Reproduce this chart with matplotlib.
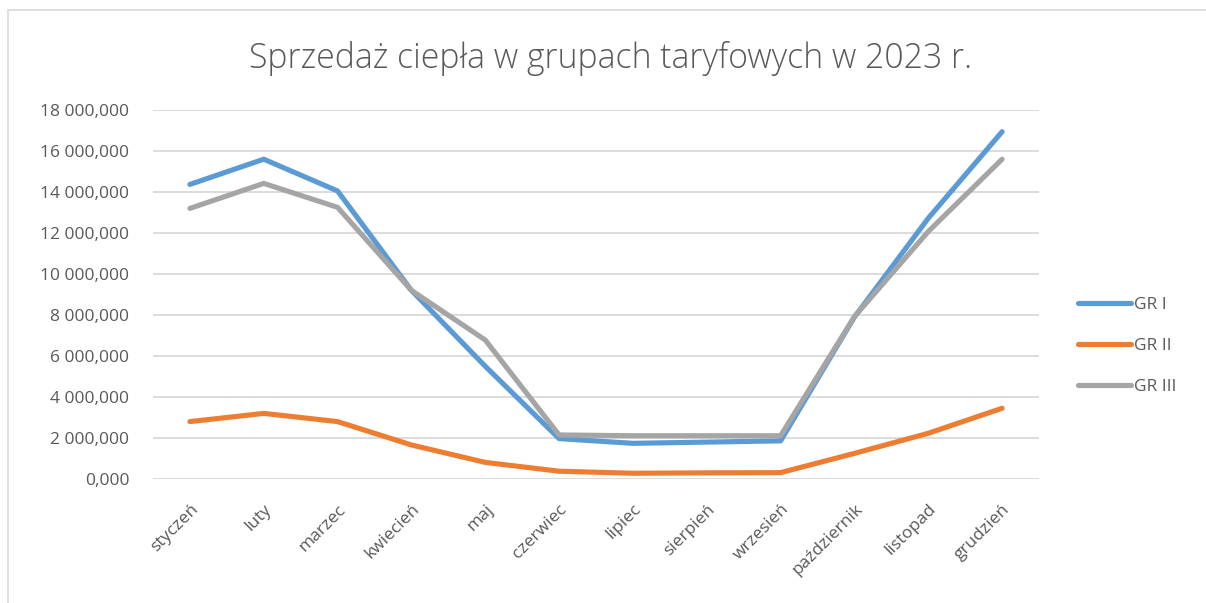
import matplotlib
matplotlib.use("Agg")
import matplotlib.pyplot as plt
from matplotlib.patches import Rectangle
from matplotlib.ticker import FuncFormatter

months = ["styczeń", "luty", "marzec", "kwiecień", "maj", "czerwiec", "lipiec",
          "sierpień", "wrzesień", "październik", "listopad", "grudzień"]
# values in thousands
gr1 = [14370, 15600, 14050, 9200, 5500, 1970, 1740, 1800, 1860, 7900, 12720, 16940]
gr2 = [2800, 3200, 2800, 1660, 810, 380, 280, 300, 310, 1250, 2230, 3450]
gr3 = [13200, 14420, 13250, 9200, 6780, 2150, 2110, 2110, 2110, 7920, 12070, 15600]
series_names = ["GR I", "GR II", "GR III"]
colors = ["#5B9BD5", "#ED7D31", "#A5A5A5"]
title = "Sprzedaż ciepła w grupach taryfowych w 2023 r."

plt.rcParams['font.family'] = ['Open Sans', 'DejaVu Sans']

W, H = 1206, 603
fig = plt.figure(figsize=(W / 100, H / 100), dpi=100)
fig.patch.set_facecolor("white")
fig.patches.append(Rectangle((8 / W, -0.01), 1.1, (H - 10) / H + 0.01,
                             transform=fig.transFigure, fill=False,
                             edgecolor="#D9D9D9", linewidth=1.2))

left, right, top, bottom = 153, 1039, 110, 479
ax = fig.add_axes([left / W, (H - bottom) / H, (right - left) / W, (bottom - top) / H])

x = list(range(len(months)))
for vals, name, c in zip([gr1, gr2, gr3], series_names, colors):
    ax.plot(x, vals, color=c, lw=3.7, label=name,
            solid_capstyle="round", solid_joinstyle="round")

ax.set_xlim(-0.5, len(months) - 0.5)
ax.set_ylim(0, 18000)
ax.set_yticks([i * 2000 for i in range(10)])

def fmt(v, pos):
    return f"{v:,.3f}".replace(",", " ").replace(".", ",")

ax.yaxis.set_major_formatter(FuncFormatter(fmt))
ax.set_xticks(x)
ax.set_xticklabels(months, rotation=45, ha="right", rotation_mode="anchor")
ax.tick_params(axis="both", length=0, labelsize=12.5, colors="#595959")
ax.tick_params(axis="y", pad=17)
ax.tick_params(axis="x", pad=16)
for s in ax.spines.values():
    s.set_visible(False)
ax.grid(axis="y", color="#D9D9D9", lw=1.3)
ax.set_axisbelow(True)

fig.text(0.506, (H - 58) / H, title, ha="center", va="center",
         fontsize=24.3, color="#595959", fontweight="light")

leg = fig.legend(loc="upper left", bbox_to_anchor=(1062 / W, (H - 281) / H),
                 frameon=False, fontsize=12.5, handlelength=3.05,
                 handletextpad=0.2, labelspacing=1.45)
for t in leg.get_texts():
    t.set_color("#595959")

fig.savefig("out.png", dpi=100)
